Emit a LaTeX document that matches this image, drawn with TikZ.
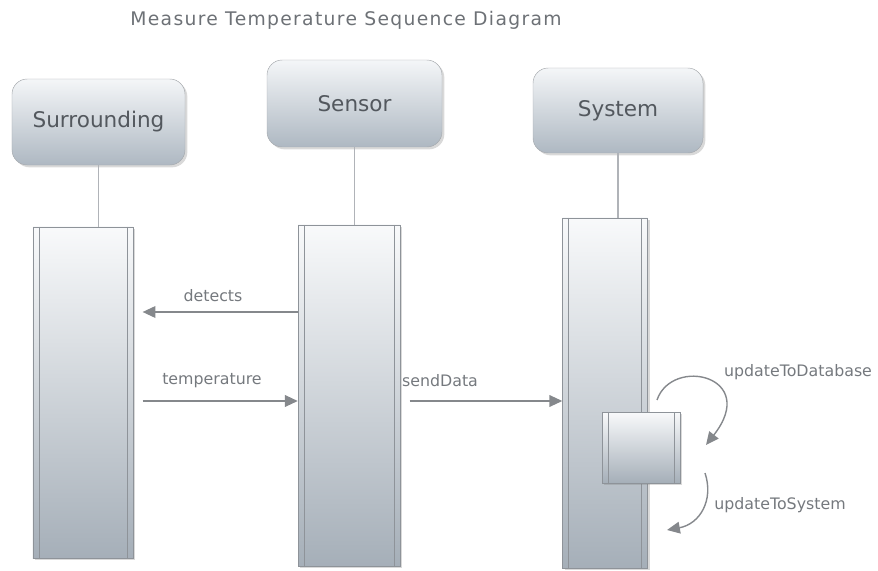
\documentclass[tikz,border=0pt]{standalone}
\usepackage{fontspec}
\setmainfont{DejaVu Sans}
\newfontfamily\titlefont[LetterSpace=7]{DejaVu Sans}
\usetikzlibrary{arrows.meta,shadows}

\definecolor{boxtop}{HTML}{F4F6F8}
\definecolor{boxbot}{HTML}{AEB8C2}
\definecolor{edge}{HTML}{8E9399}
\definecolor{ink}{HTML}{53585E}
\definecolor{link}{HTML}{85888C}

\begin{document}
\begin{tikzpicture}[x=0.03cm, y=-0.03cm,
    actor/.style={draw=edge!80, rounded corners=13pt, top color=boxtop, bottom color=boxbot,
        drop shadow={opacity=0.3, shadow xshift=2pt, shadow yshift=-2pt},
        text=ink, font=\fontsize{18.4}{22}\selectfont, inner sep=0pt},
    actbar/.style={draw=edge, top color=boxtop!60!white, bottom color=boxbot!95!black,
        drop shadow={opacity=0.3, shadow xshift=2pt, shadow yshift=-2pt}, inner sep=0pt,
        path picture={
            \draw[edge] ([xshift=5pt]path picture bounding box.north west) -- ([xshift=5pt]path picture bounding box.south west);
            \draw[edge] ([xshift=-5pt]path picture bounding box.north east) -- ([xshift=-5pt]path picture bounding box.south east);
        }},
    life/.style={draw=edge!70, line width=1.2pt},
    msg/.style={draw=link, line width=1.2pt, -{Triangle[length=11pt, width=10pt]}},
    lbl/.style={text=ink!80, font=\fontsize{13.5}{16}\selectfont, inner sep=0pt}]

    \useasboundingbox (0,0) rectangle (878,571);

    \node[text=ink!85, font=\titlefont\fontsize{16}{19}\selectfont] (title) at (346,20) {Measure Temperature Sequence Diagram};

    \node[actor, minimum width=5.19cm, minimum height=2.58cm] (sur) at (98.5,122) {Surrounding};
    \node[actor, minimum width=5.25cm, minimum height=2.61cm] (sen) at (354.5,103.5) {Sensor};
    \node[actor, minimum width=5.1cm, minimum height=2.55cm] (sys) at (618,110.5) {System};

    \node[actbar, minimum width=3cm, minimum height=9.93cm] (surbar) at (83,392.5) {};
    \node[actbar, minimum width=3.06cm, minimum height=10.23cm] (senbar) at (349,395.5) {};
    \node[actbar, minimum width=2.55cm, minimum height=10.5cm] (sysbar) at (605,393) {};
    \node[actbar, minimum width=2.34cm, minimum height=2.13cm] (dbbox) at (641,447.5) {};

    \draw[life] (sur.south) -- (sur.south |- surbar.north);
    \draw[life] (sen.south) -- (sen.south |- senbar.north);
    \draw[life] (sys.south) -- (sys.south |- sysbar.north);

    \draw[msg, shorten >=8pt] (senbar.west |- 0,312) -- (surbar.east |- 0,312);
    \draw[msg, shorten <=8pt] (surbar.east |- 0,401) -- (senbar.west |- 0,401);
    \draw[msg, shorten <=8pt] (senbar.east |- 0,401) -- (sysbar.west |- 0,401);

    \node[lbl] (detects) at (213,296) {detects};
    \node[lbl] (temp) at (212,381) {temperature};
    \node[lbl] (send) at (440,381) {sendData};

    \coordinate (dbstart) at (657,400);
    \coordinate (dbend) at (706,445);
    \coordinate (sysstart) at (705,473);
    \coordinate (sysend) at (667,530);
    \draw[msg] (dbstart) .. controls (672,356) and (760,376) .. (dbend);
    \draw[msg] (sysstart) .. controls (714,500) and (700,524) .. (sysend);

    \node[lbl] (updb) at (798,372) {updateToDatabase};
    \node[lbl] (upsys) at (780,505) {updateToSystem};
\end{tikzpicture}
\end{document}
